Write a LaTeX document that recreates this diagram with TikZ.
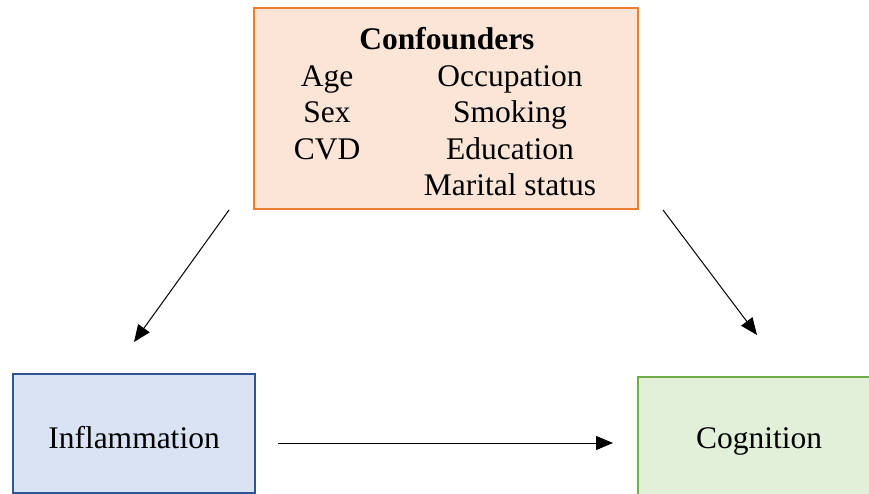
\documentclass[tikz,border=0pt]{standalone}
\usepackage{fontspec}
\setmainfont{Liberation Serif}
\usetikzlibrary{arrows.meta}

\definecolor{confline}{HTML}{ED7D31}
\definecolor{conffill}{HTML}{FBE5D6}
\definecolor{inflline}{HTML}{2F5597}
\definecolor{inflfill}{HTML}{DAE3F3}
\definecolor{cogline}{HTML}{70AD47}
\definecolor{cogfill}{HTML}{E2F0D9}

\begin{document}
\begin{tikzpicture}[x=1pt, y=-1pt,
	every node/.style={font=\fontsize{31.5}{38}\selectfont},
	box/.style={draw, line width=2pt, minimum width=242pt, minimum height=119pt, text height=29pt, text depth=0pt},
	arrow/.style={-{Triangle[length=17pt,width=14pt]}, line width=1pt}]
	\clip (0,0) rectangle (869,494);

	% Confounders
	\node[box, draw=confline, fill=conffill, minimum width=384pt, minimum height=201pt] (conf) at (446,108.5) {};
	\node[anchor=base, font=\fontsize{31.5}{38}\selectfont\bfseries] (title) at (447,50) {Confounders};
	\node[anchor=base] (age) at (327,86.5) {Age};
	\node[anchor=base] (sex) at (327,123) {Sex};
	\node[anchor=base] (cvd) at (327,159.5) {CVD};
	\node[anchor=base] (occ) at (510,86.5) {Occupation};
	\node[anchor=base] (smok) at (510,123) {Smoking};
	\node[anchor=base] (edu) at (510,159.5) {Education};
	\node[anchor=base] (mar) at (510,196) {Marital status};

	% Exposure and outcome
	\node[box, draw=inflline, fill=inflfill] (infl) at (134,433.5) {Inflammation};
	\node[box, draw=cogline, fill=cogfill, text height=23pt] (cog) at (759,436.5) {Cognition};

	% Paths
	\draw[arrow] ([xshift=-24pt]conf.south west) -- ([yshift=31pt]infl.north);
	\draw[arrow] ([xshift=24pt]conf.south east) -- ([xshift=-2pt,yshift=41pt]cog.north);
	\draw[arrow] ([xshift=22pt,yshift=-9.5pt]infl.east) -- ([xshift=-24pt,yshift=-6.5pt]cog.west);
\end{tikzpicture}
\end{document}
